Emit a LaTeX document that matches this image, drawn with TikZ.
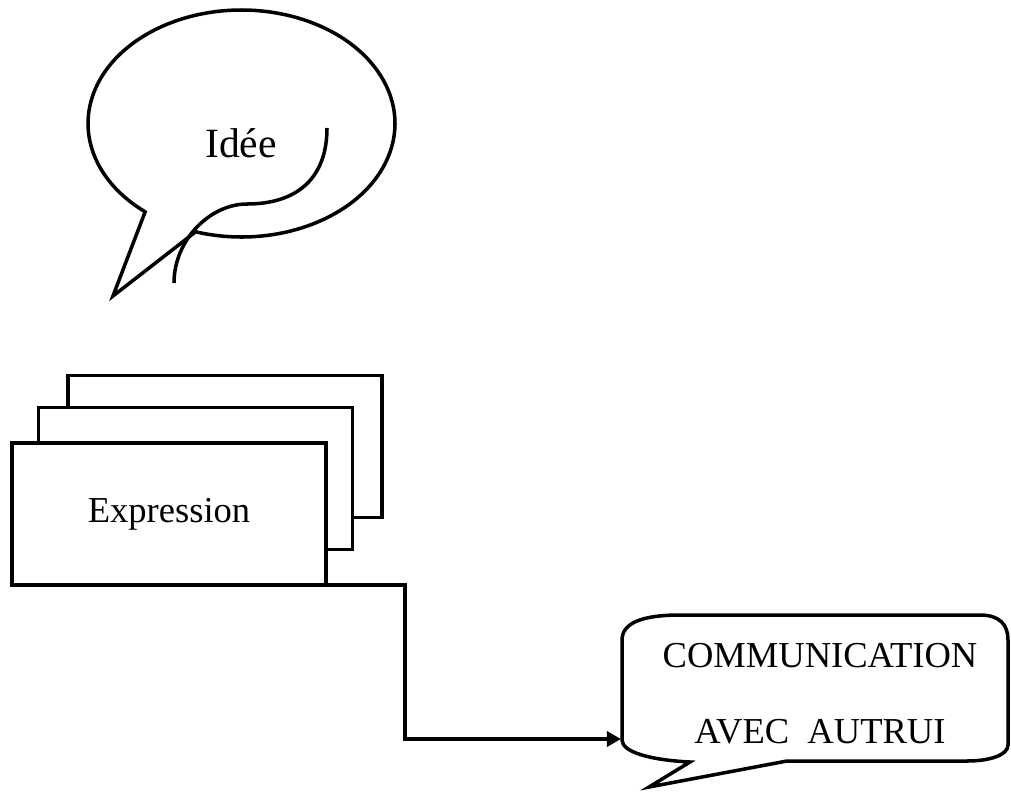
\documentclass[tikz,border=0pt]{standalone}
\usepackage{fontspec}
\setmainfont{Liberation Serif}
\usetikzlibrary{arrows.meta,positioning}

\begin{document}
\begin{tikzpicture}[
    x=0.02cm,y=-0.02cm,
    >={Triangle[length=8pt,width=8.5pt]},
    outline/.style={line width=2pt,line join=miter},
    card/.style={rectangle,draw,fill=white,outline,outer sep=0pt,
      minimum width=6.28cm,minimum height=2.84cm},
    txt/.style={font=\fontsize{20.8}{43}\selectfont}]
    \useasboundingbox (0,0) rectangle (1011,792);

    % thought bubble with its tail
    \draw[outline] (113,296) -- ([shift={(252.6:3.07cm and 2.27cm)}]241.5,123.5)
      arc[start angle=252.6,end angle=591.1,x radius=3.07cm,y radius=2.27cm] -- cycle;
    \draw[outline] (327,128) .. controls (327,180) and (295,204) .. (247,204)
      .. controls (210,204) and (174,240) .. (174,283);
    \node[font=\fontsize{23.7}{28}\selectfont,anchor=base] (idee) at (241,157) {Idée};

    % stacked sheets
    \node[card] (card3) at (225,446.5) {};
    \node[card,xshift=-0.59cm,yshift=-0.64cm] (card2) at (card3) {};
    \node[card,txt,xshift=-0.53cm,yshift=-0.71cm] (expr) at (card2) {Expression};

    % rounded callout
    \draw[outline] (622,740) -- (622,640) .. controls (622,620) and (650,615) .. (680,615)
      -- (980,615) .. controls (1000,615) and (1008,625) .. (1008,640)
      -- (1008,745) .. controls (1008,755) and (990,761) .. (967,761)
      -- (787,761) -- (649,787) -- (690,762)
      .. controls (650,760) and (622,752) .. (622,740) -- cycle;
    \node[txt,align=center,anchor=base] (comm) at (820,743) {COMMUNICATION\\AVEC\ \ AUTRUI};

    \coordinate (elbow) at (405,739);
    \coordinate (commin) at (621,739);
    \draw[outline,->] (expr.south east) -| (elbow) -- (commin);
\end{tikzpicture}
\end{document}
